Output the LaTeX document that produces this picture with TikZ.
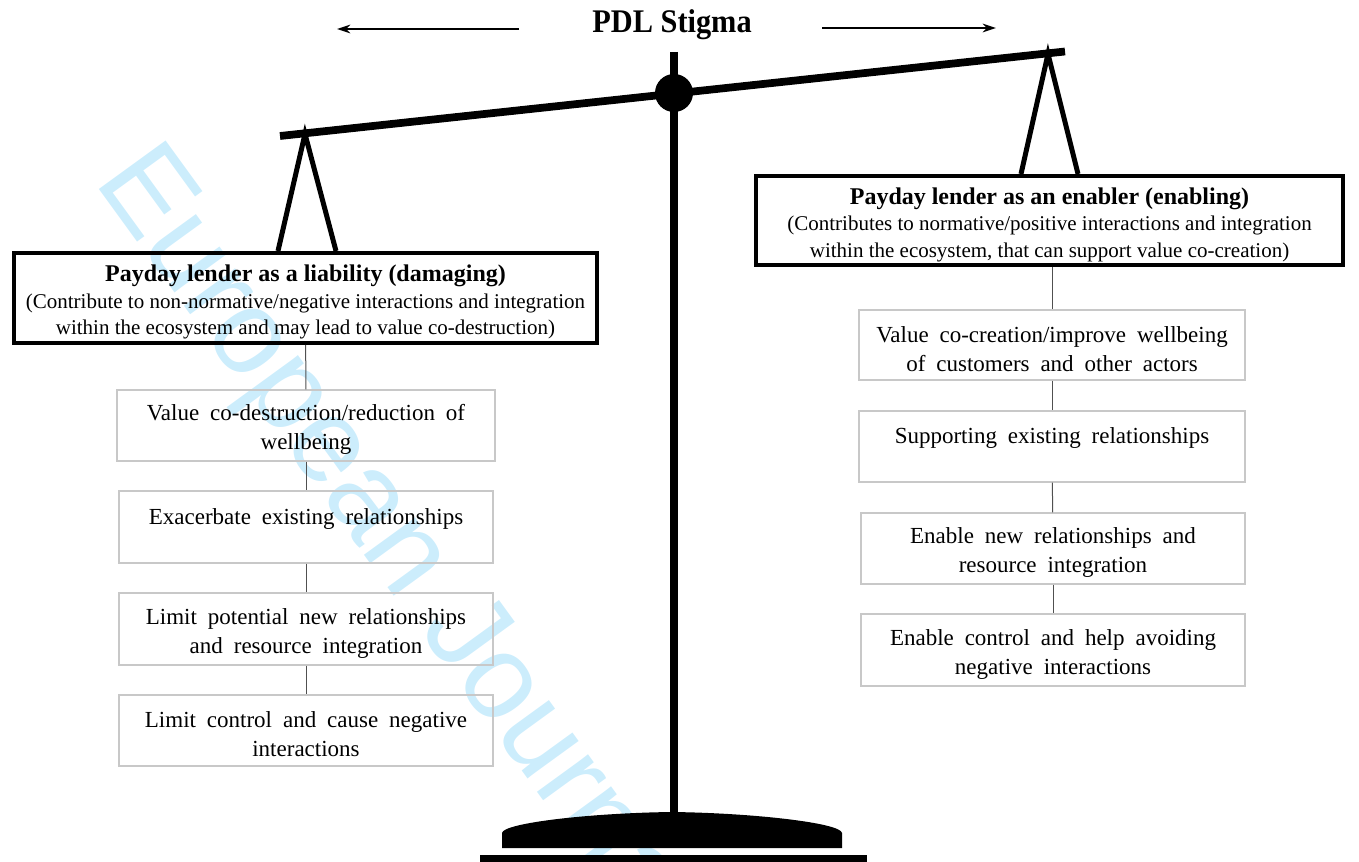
\documentclass[tikz,border=0pt]{standalone}
\usepackage{graphicx}
\usepackage{fontspec}
\setmainfont{Liberation Serif}
\newfontfamily\boxfont[WordSpace=1.9]{Liberation Serif}
\newfontfamily\wmfont{Liberation Sans}
\usetikzlibrary{arrows.meta}
\definecolor{wmblue}{RGB}{204,237,252}
\definecolor{boxgray}{RGB}{200,200,200}
\definecolor{linkgray}{RGB}{80,80,80}
\newcommand{\topstrutA}{\rule{0pt}{19pt}}
\newcommand{\topstrutB}{\rule{0pt}{18pt}}
\begin{document}
\begin{tikzpicture}[x=0.75pt,y=-0.75pt,
  titlebox/.style={draw, line width=3pt, align=center, inner sep=0pt,
    font=\fontsize{15.75}{19.9}\selectfont},
  itembox/.style={draw=boxgray, line width=1pt, align=center, inner sep=0pt,
    font=\boxfont\fontsize{17.25}{21.75}\selectfont},
  link/.style={draw=linkgray, line width=0.75pt},
  hanger/.style={line width=3.75pt, line join=miter},
  topArrow/.style={line width=1.3pt, -{Stealth[length=10pt,width=6.5pt]}},
]
\useasboundingbox (0,0) rectangle (1359,862);
% watermark
\begin{scope}
  \clip (0,0) rectangle (1359,862);
  \node[rotate=-54, anchor=base west, inner sep=0pt, text=wmblue,
    font=\wmfont\fontsize{90}{90}\selectfont] (wm) at (93,181) {European Journal};
\end{scope}
% heading
\node[inner sep=0pt, font=\bfseries\fontsize{24.75}{24.75}\selectfont] (title) at (672,25) {\scalebox{0.92}[1]{PDL Stigma}};
\coordinate (la1) at (519,29);
\coordinate (la2) at (337,29);
\coordinate (ra1) at (822,28);
\coordinate (ra2) at (996,28);
\draw[topArrow] (la1) -- (la2);
\draw[topArrow] (ra1) -- (ra2);
% scale
\draw[line width=5.5pt] (674,52) -- (674,815);
\draw[line width=5.8pt] (280,136) -- (1065,51.5);
\fill (674,93) circle[radius=14.25pt];
\draw[hanger] (278,251) -- (305,134) -- (336,251);
\draw[hanger] (1021,174) -- (1048,54) -- (1078,174);
\fill (502,848) -- (502,833) .. controls (503,823) and (590,813) .. (672,812)
  .. controls (754,813) and (841,823) .. (842,833) -- (842,848) -- cycle;
\fill (480,855) rectangle (867,862);
% title boxes
\node[titlebox, minimum width=437.25pt, minimum height=67.5pt] (lt) at (305.5,298)
  {\topstrutA{\fontsize{18}{19.9}\selectfont\bfseries Payday lender as a liability (damaging)}\\
   (Contribute to non-normative/negative interactions and integration\\
   within the ecosystem and may lead to value co-destruction)};
\node[titlebox, minimum width=440.25pt, minimum height=66.75pt] (rt) at (1049.5,220.5)
  {\topstrutA{\fontsize{18}{19.9}\selectfont\bfseries Payday lender as an enabler (enabling)}\\
   (Contributes to normative/positive interactions and integration\\
   within the ecosystem, that can support value co-creation)};
% left items
\node[itembox, minimum width=283.5pt, minimum height=53.25pt] (l1) at (306,425.5)
  {\topstrutB Value co-destruction/reduction of\\wellbeing};
\node[itembox, minimum width=280.5pt, minimum height=54pt] (l2) at (306,527)
  {\topstrutB Exacerbate existing relationships\\\mbox{}};
\node[itembox, minimum width=280.5pt, minimum height=54pt] (l3) at (306,629)
  {\topstrutB Limit potential new relationships\\and resource integration};
\node[itembox, minimum width=280.5pt, minimum height=53.25pt] (l4) at (306,730.5)
  {\topstrutB Limit control and cause negative\\interactions};
% right items
\node[itembox, minimum width=289.5pt, minimum height=52.5pt] (r1) at (1052,345)
  {\topstrutB Value co-creation/improve wellbeing\\of customers and other actors};
\node[itembox, minimum width=289.5pt, minimum height=53.25pt] (r2) at (1052,446.5)
  {\topstrutB Supporting existing relationships\\\mbox{}};
\node[itembox, minimum width=288pt, minimum height=53.25pt] (r3) at (1053,548.5)
  {\topstrutB Enable new relationships and\\resource integration};
\node[itembox, minimum width=288pt, minimum height=54pt] (r4) at (1053,650)
  {\topstrutB Enable control and help avoiding\\negative interactions};
% connectors
\draw[link] (lt) -- (l1);
\draw[link] (l1) -- (l2);
\draw[link] (l2) -- (l3);
\draw[link] (l3) -- (l4);
\draw[link] (r1.north |- rt.south) -- (r1.north);
\draw[link] (r1) -- (r2);
\draw[link] (r2) -- (r3);
\draw[link] (r3) -- (r4);
\end{tikzpicture}
\end{document}
